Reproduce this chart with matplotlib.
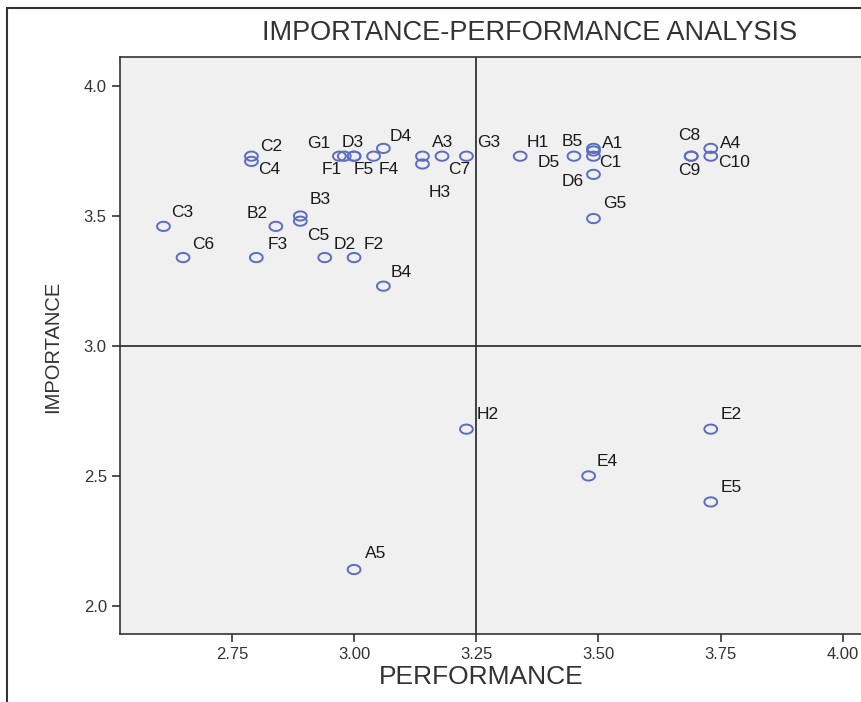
import numpy as np
import matplotlib
matplotlib.use("Agg")
import matplotlib.pyplot as plt
from matplotlib.path import Path
from matplotlib.patches import Rectangle

# Data: attribute codes, performance (x) and importance (y) means
codes = ["C2", "C4", "G1", "F1", "D3", "F5", "F4", "D4", "A3", "H3", "C7", "G3",
         "H1", "D5", "B5", "A1", "C1", "D6", "G5", "C8", "C9", "A4", "C10",
         "C3", "B2", "B3", "C5", "C6", "F3", "D2", "F2", "B4",
         "H2", "E2", "E4", "E5", "A5"]
performance = [2.79, 2.79, 2.97, 2.98, 3.00, 3.00, 3.04, 3.06, 3.14, 3.14, 3.18, 3.23,
               3.34, 3.45, 3.49, 3.49, 3.49, 3.49, 3.49, 3.69, 3.69, 3.73, 3.73,
               2.61, 2.84, 2.89, 2.89, 2.65, 2.80, 2.94, 3.00, 3.06,
               3.23, 3.73, 3.48, 3.73, 3.00]
importance = [3.73, 3.71, 3.73, 3.73, 3.73, 3.73, 3.73, 3.76, 3.73, 3.70, 3.73, 3.73,
              3.73, 3.73, 3.75, 3.76, 3.73, 3.66, 3.49, 3.73, 3.73, 3.76, 3.73,
              3.46, 3.46, 3.50, 3.48, 3.34, 3.34, 3.34, 3.34, 3.23,
              2.68, 2.68, 2.50, 2.40, 2.14]
perf_mean = 3.25
imp_mean = 3.0

# label offsets (pixels) so the tags sit like in the original
label_offsets = {
    "C2": (20, 10), "C4": (18, -8), "G1": (-21, 13), "F1": (-13, -13),
    "D3": (-1, 14), "F5": (10, -13), "F4": (15, -13), "D4": (17, 12),
    "A3": (20, 14), "H3": (17, -29), "C7": (17, -13), "G3": (22, 14),
    "H1": (18, 14), "D5": (-25, -6), "B5": (-21, 9), "A1": (19, 5),
    "C1": (17, -6), "D6": (-21, -7), "G5": (21, 15), "C8": (-2, 21),
    "C9": (-2, -14), "A4": (20, 5), "C10": (23, -6), "C3": (19, 14),
    "B2": (-19, 13), "B3": (20, 16), "C5": (18, -14), "C6": (20, 13),
    "F3": (21, 13), "D2": (20, 13), "F2": (20, 13), "B4": (18, 14),
    "H2": (21, 15), "E2": (20, 15), "E4": (19, 14), "E5": (20, 14),
    "A5": (22, 16),
}

plt.rcParams['font.family'] = ['Liberation Sans', 'DejaVu Sans']

W, H = 862, 702
fig = plt.figure(figsize=(W / 100, H / 100), dpi=100)
fig.patch.set_facecolor("white")

# outer frame (SPSS chart border, cut off on right/bottom)
fig.patches.append(Rectangle((7 / W, -0.1), 1.2, (H - 8) / H + 0.1,
                             transform=fig.transFigure, fill=False,
                             edgecolor="#333333", lw=1.5))

ax = fig.add_axes([120 / W, 1 - 634 / H, 752 / W, 577 / H])
ax.set_facecolor("#f0f0f0")
ax.set_xlim(2.521, 4.06)
ax.set_ylim(1.892, 4.1115)

# ellipse-shaped ring marker
t = np.linspace(0, 2 * np.pi, 60)
ring = Path(np.column_stack([np.cos(t), 0.72 * np.sin(t)]))

ax.scatter(performance, importance, marker=ring, s=85, facecolors="none",
           edgecolors="#5a6cc4", linewidths=1.4, zorder=3)

for c, x, y in zip(codes, performance, importance):
    dx, dy = label_offsets[c]
    ax.annotate(c, (x, y), xytext=(dx, dy), textcoords="offset pixels",
                ha="center", va="center", fontsize=12.5, color="#1a1a1a",
                zorder=4)

ax.axvline(perf_mean, color="#333333", lw=1.3, zorder=2)
ax.axhline(imp_mean, color="#333333", lw=1.3, zorder=2)

ax.set_xticks([2.75, 3.00, 3.25, 3.50, 3.75, 4.00])
ax.set_xticklabels(["2.75", "3.00", "3.25", "3.50", "3.75", "4.00"])
ax.set_yticks([2.0, 2.5, 3.0, 3.5, 4.0])
ax.set_yticklabels(["2.0", "2.5", "3.0", "3.5", "4.0"])
ax.tick_params(direction="out", length=6, width=1.2, color="#333333",
               labelsize=12, labelcolor="#333333")
for s in ax.spines.values():
    s.set_color("#333333")
    s.set_linewidth(1.2)

ax.set_xlabel("PERFORMANCE", fontsize=19, color="#333333")
ax.xaxis.set_label_coords((481 - 120) / 752, -(665 - 634) / 577)
ax.set_ylabel("IMPORTANCE", fontsize=14.5, color="#333333")
ax.yaxis.set_label_coords(-(120 - 62) / 752, (634 - 347) / 577)
fig.text(530 / W, 1 - 33 / H, "IMPORTANCE-PERFORMANCE ANALYSIS",
         ha="center", va="center", fontsize=19.5, color="#333333")

fig.savefig("out.png", dpi=100)
